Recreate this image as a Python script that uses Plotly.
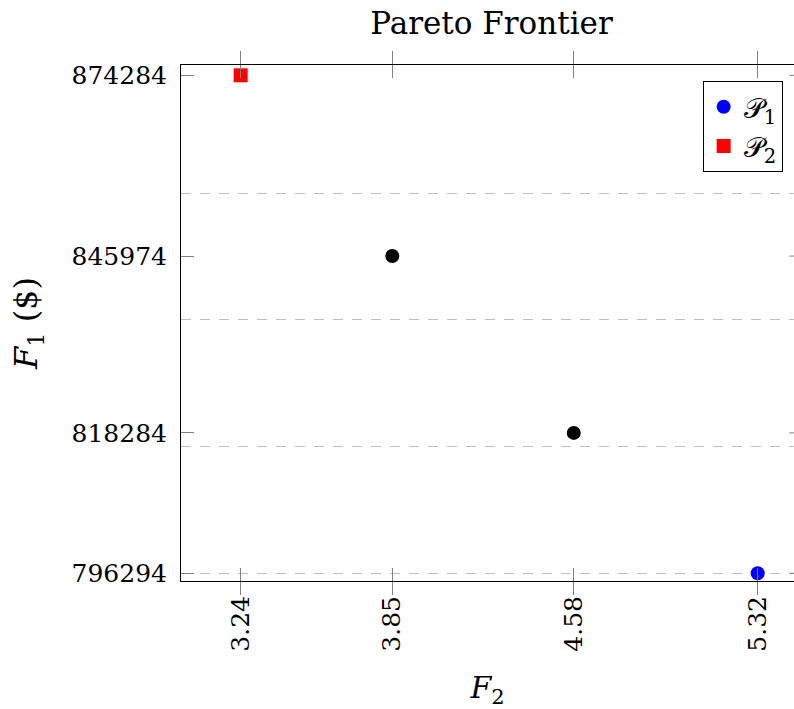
import plotly.graph_objects as go

# Pareto frontier points: F2 (x) against cost F1 (y)
f2_values = [3.24, 3.85, 4.58, 5.32]
f1_values = [874284, 845974, 818284, 796294]

# Which solutions are labelled in the legend
p1_x, p1_y = [5.32], [796294]
p2_x, p2_y = [3.24], [874284]
mid_x, mid_y = [3.85, 4.58], [845974, 818284]

x_tick_vals = [3.24, 3.85, 4.58, 5.32]
x_tick_text = ["3.24", "3.85", "4.58", "5.32"]
y_tick_vals = [874284, 845974, 818284, 796294]
y_tick_text = ["874284", "845974", "818284", "796294"]

# Dashed horizontal guide lines
grid_vals = [796294, 816144, 835994, 855844]

x_range = [3.0, 5.466]
y_range = [795088, 875897]

FONT = "DejaVu Serif, Liberation Serif, serif"
TICK_GRAY = "#808080"

fig = go.Figure()

fig.add_trace(go.Scatter(
    x=mid_x, y=mid_y, mode="markers", showlegend=False,
    marker=dict(symbol="circle", size=14, color="black"),
))
fig.add_trace(go.Scatter(
    x=p1_x, y=p1_y, mode="markers", name="𝒫<sub>1</sub>",
    marker=dict(symbol="circle", size=14, color="blue"),
))
fig.add_trace(go.Scatter(
    x=p2_x, y=p2_y, mode="markers", name="𝒫<sub>2</sub>",
    marker=dict(symbol="square", size=14, color="red"),
))

# Invisible trace on an overlay axis just to carry the dashed grid
fig.add_trace(go.Scatter(
    x=[x_range[0]], y=[grid_vals[0]], mode="markers", showlegend=False,
    marker=dict(opacity=0), yaxis="y2", hoverinfo="skip",
))

# Right-hand inward tick marks
tick_dx = 13 / 248.6
for v in y_tick_vals:
    fig.add_shape(type="line", xref="x", yref="y",
                  x0=5.5 - tick_dx, x1=5.5, y0=v, y1=v,
                  line=dict(color=TICK_GRAY, width=1))

fig.update_layout(
    width=794, height=709,
    margin=dict(l=181, r=0, t=65, b=128),
    paper_bgcolor="white", plot_bgcolor="white",
    font=dict(family=FONT, size=25, color="black"),
    title=dict(text="Pareto Frontier", x=0.5065, xref="paper", xanchor="center",
               y=0.968, yanchor="middle", yref="container",
               font=dict(family=FONT, size=31)),
    xaxis=dict(
        range=x_range, tickvals=x_tick_vals, ticktext=x_tick_text,
        tickangle=-90, ticks="inside", ticklen=13, tickcolor=TICK_GRAY, tickwidth=1,
        showline=True, linecolor="black", linewidth=1, mirror="allticks",
        showgrid=False, zeroline=False, ticklabelstandoff=4,
        title=dict(text="<i>F</i><sub>2</sub>", standoff=26, font=dict(size=30)),
    ),
    yaxis=dict(
        range=y_range, tickvals=y_tick_vals, ticktext=y_tick_text,
        ticks="inside", ticklen=13, tickcolor=TICK_GRAY, tickwidth=1,
        showline=True, linecolor="black", linewidth=1, mirror=False,
        showgrid=False, zeroline=False, ticklabelstandoff=8,
        title=dict(text="<i>F</i><sub>1</sub> ($)", standoff=24, font=dict(size=32)),
    ),
    yaxis2=dict(
        range=y_range, overlaying="y", side="left", tickvals=grid_vals,
        showticklabels=False, ticks="", showgrid=True,
        gridcolor="#bfbfbf", gridwidth=1, griddash="10px,9px",
        zeroline=False, showline=False,
    ),
    legend=dict(
        x=0.851, y=0.969, xanchor="left", yanchor="top",
        bordercolor="black", borderwidth=1, bgcolor="white",
        font=dict(family=FONT, size=28), itemwidth=30, tracegroupgap=0,
    ),
)

fig.write_html("out.html")
